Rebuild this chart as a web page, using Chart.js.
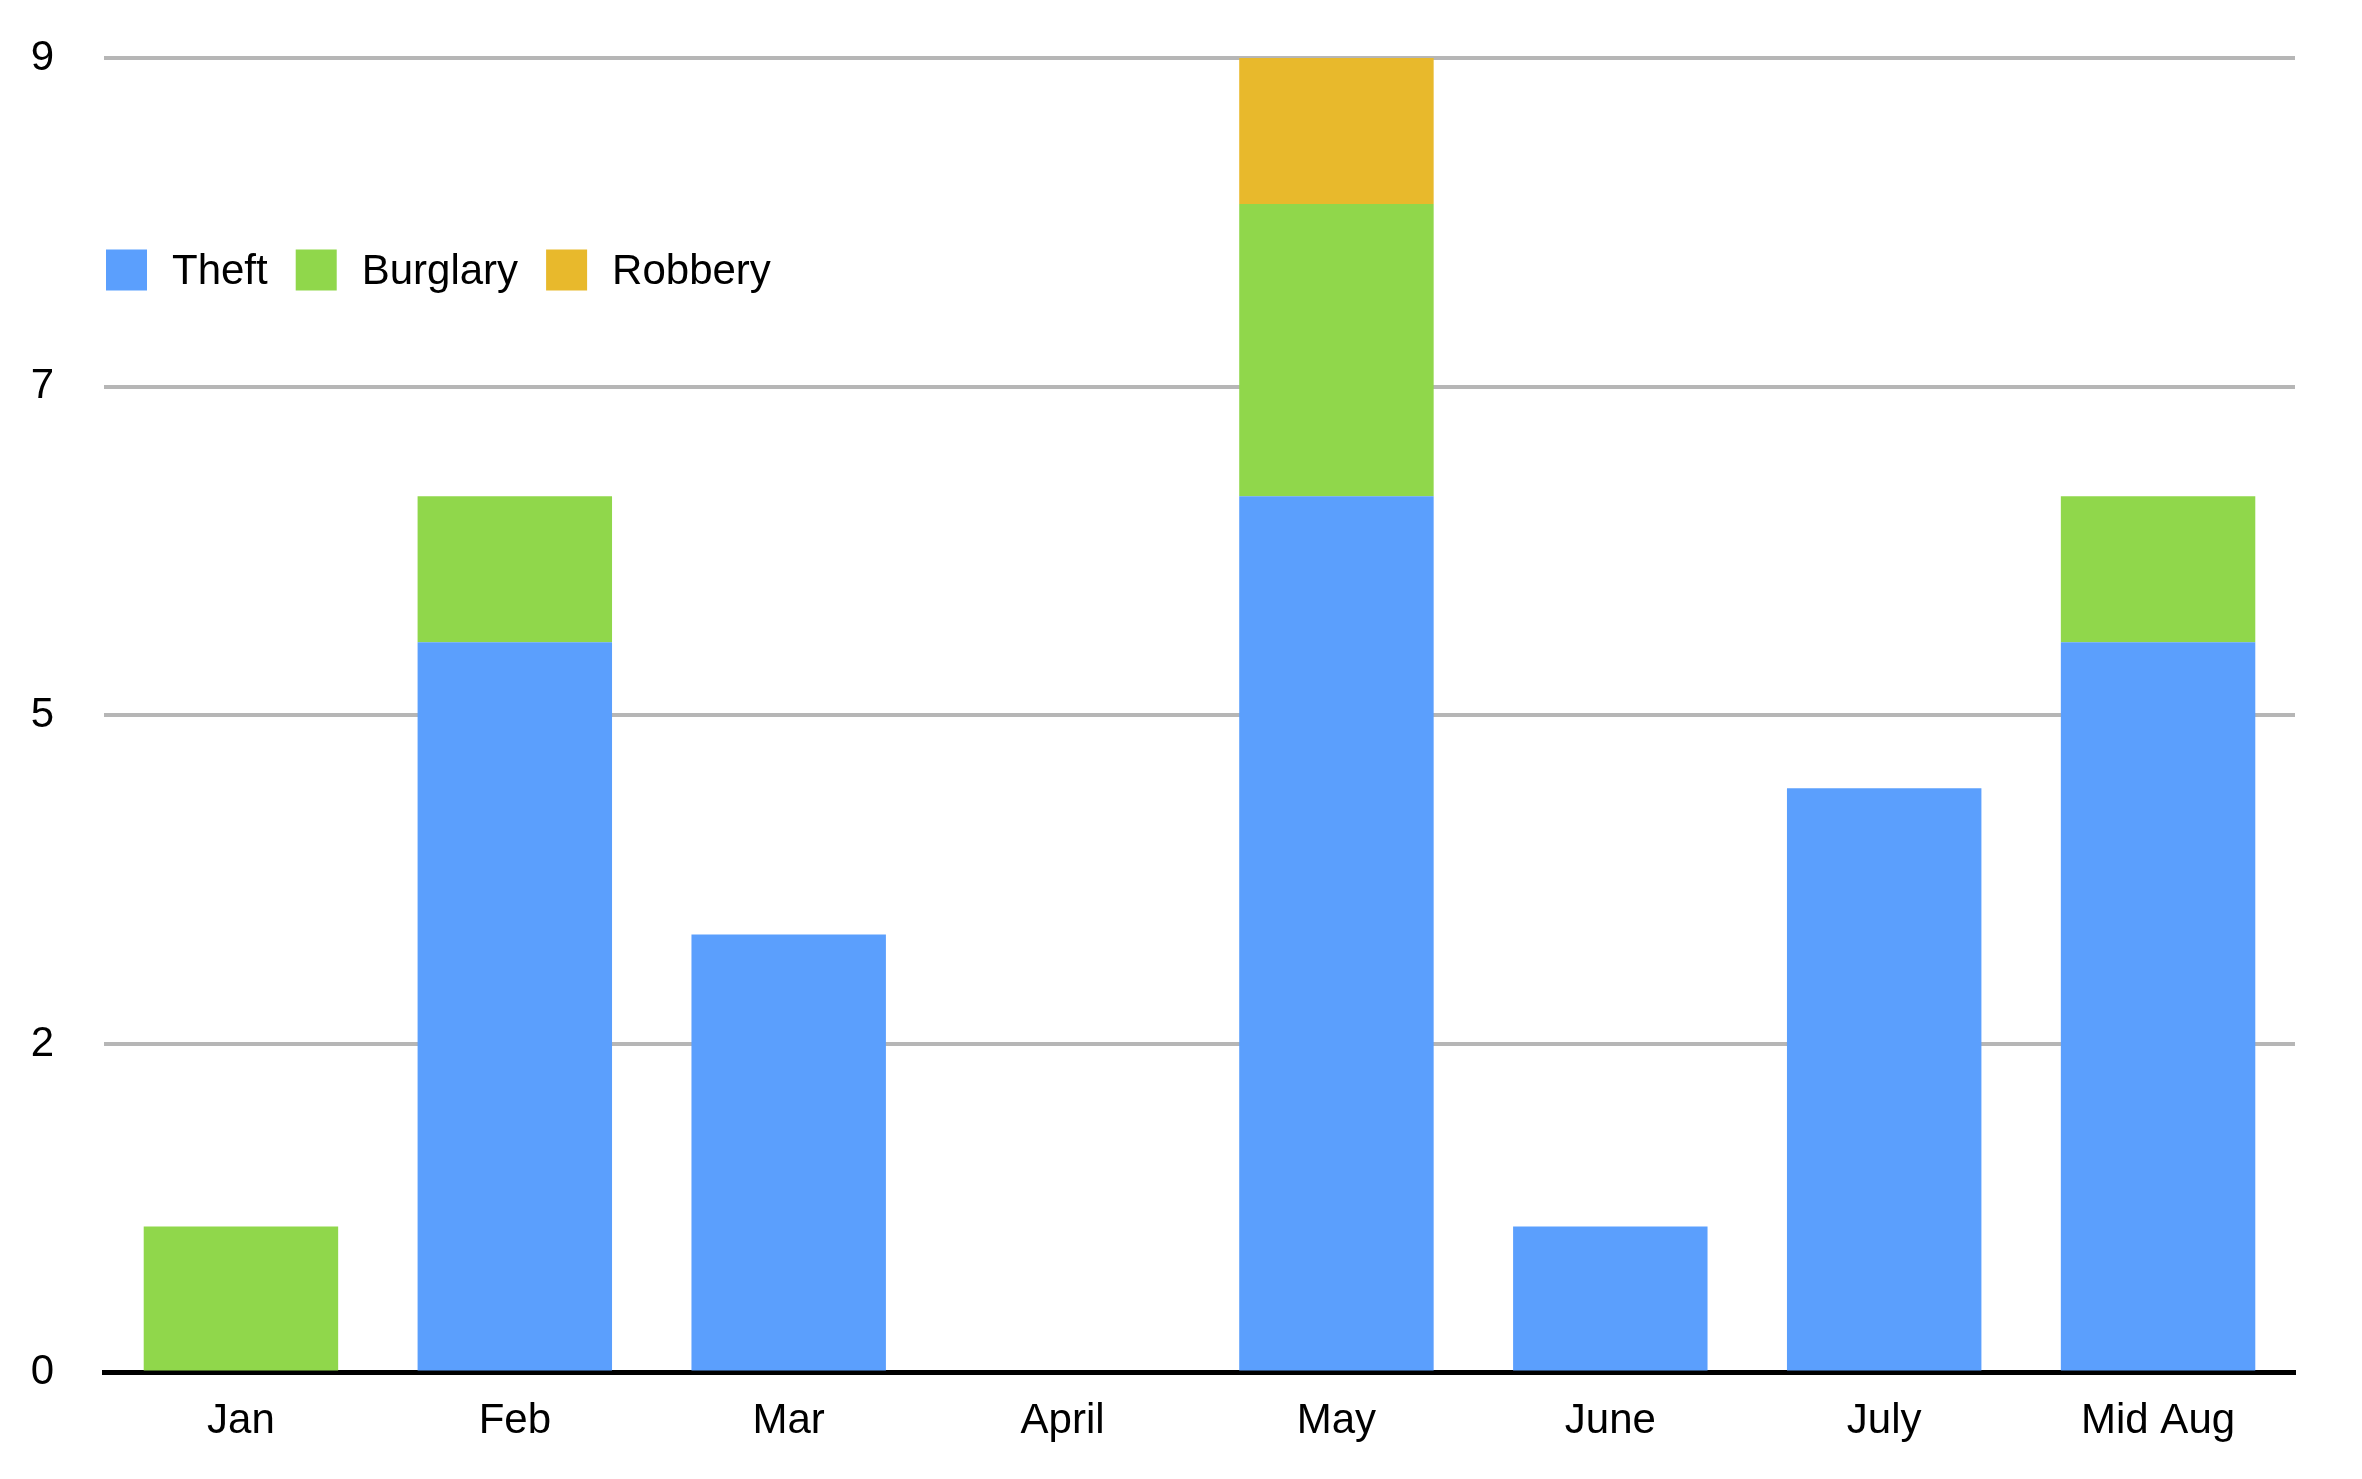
<!DOCTYPE html>
<html>
<head>
<meta charset="utf-8">
<script src="https://cdn.jsdelivr.net/npm/chart.js@4"></script>
<style>
  html, body { margin: 0; padding: 0; background: #fff; }
  #wrap { width: 2362px; height: 1479px; }
</style>
</head>
<body>
<div id="wrap"><canvas id="crimeChart"></canvas></div>
<script>
var categories = ['Jan', 'Feb', 'Mar', 'April', 'May', 'June', 'July', 'Mid Aug']
var theft = [0, 5, 3, 0, 6, 1, 4, 5]
var burglary = [1, 1, 0, 0, 2, 0, 0, 1]
var robbery = [0, 0, 0, 0, 1, 0, 0, 0]
var seriesNames = ['Theft', 'Burglary', 'Robbery']
var seriesColors = ['#5b9ffd', '#90d74b', '#e8b92c']
var yTicks = [0, 2.25, 4.5, 6.75, 9]
var yTickLabels = ['0', '2', '5', '7', '9']

Chart.defaults.font.family = '"Liberation Sans", Arial, sans-serif'
Chart.defaults.font.size = 42
Chart.defaults.color = '#000'

// legend sits inside the plot, drawn by hand
var insideLegend = {
    id: 'insideLegend',
    afterDraw: function(chart) {
        var ctx = chart.ctx
        var x = chart.chartArea.left + 2
        var cy = 270
        var box = 41
        ctx.save()
        ctx.font = '42px "Liberation Sans", Arial, sans-serif'
        ctx.textBaseline = 'middle'
        chart.data.datasets.forEach(function(ds) {
            ctx.fillStyle = ds.backgroundColor
            ctx.fillRect(x, cy - box / 2, box, box)
            x += box + 25
            ctx.fillStyle = '#000'
            ctx.fillText(ds.label, x, cy + 2)
            x += ctx.measureText(ds.label).width + 28
        })
        ctx.restore()
    }
}

var ctx = document.getElementById('crimeChart').getContext('2d')

var chart = new Chart(ctx, {
    type: 'bar',
    data: {
        labels: categories,
        datasets: [
            { label: seriesNames[0], data: theft, backgroundColor: seriesColors[0] },
            { label: seriesNames[1], data: burglary, backgroundColor: seriesColors[1] },
            { label: seriesNames[2], data: robbery, backgroundColor: seriesColors[2] }
        ]
    },
    options: {
        responsive: true,
        maintainAspectRatio: false,
        animation: false,
        devicePixelRatio: 1,
        layout: { padding: { left: 0, right: 67, top: 58, bottom: 8 } },
        datasets: {
            bar: { categoryPercentage: 1, barPercentage: 0.71, borderWidth: 0 }
        },
        plugins: {
            legend: { display: false },
            tooltip: { enabled: false }
        },
        scales: {
            x: {
                stacked: true,
                grid: { display: false, drawTicks: false },
                border: { display: true, color: '#000', width: 5 },
                ticks: { padding: 24, maxRotation: 0 }
            },
            y: {
                stacked: true,
                min: 0,
                max: 9,
                afterBuildTicks: function(axis) {
                    axis.ticks = yTicks.map(function(v) { return { value: v } })
                },
                afterFit: function(axis) {
                    axis.width = 104
                    axis.paddingTop = 0
                    axis.paddingBottom = 0
                },
                grid: { color: '#b6b6b6', lineWidth: 4, drawTicks: false },
                border: { display: false },
                ticks: {
                    padding: 50,
                    callback: function(value, index) { return yTickLabels[index] }
                }
            }
        }
    },
    plugins: [insideLegend]
})
</script>
</body>
</html>
